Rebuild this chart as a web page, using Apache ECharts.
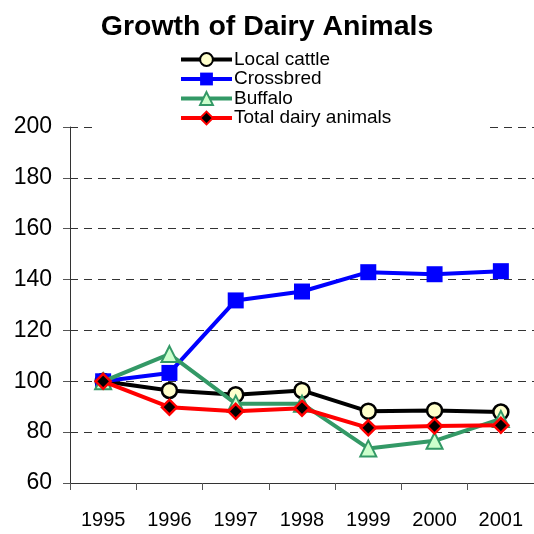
<!DOCTYPE html>
<html><head><meta charset="utf-8">
<script src="https://cdn.jsdelivr.net/npm/echarts@6/dist/echarts.min.js"></script>
<style>html,body{margin:0;padding:0;background:#fff}#c{width:534px;height:534px}</style>
</head><body><div id="c"></div>
<script>
const years = ['1995','1996','1997','1998','1999','2000','2001'];
const localCattle = [100, 96.4, 94.7, 96.4, 88.2, 88.5, 87.9];
const crossbred = [100, 103.3, 131.8, 135.3, 142.9, 142.1, 143.3];
const buffalo = [100, 110.7, 91.2, 91.2, 73.6, 76.6, 85.2];
const totalDairy = [100, 89.8, 88.2, 89.4, 81.7, 82.4, 82.7];
const yTicks = {min: 60, max: 200, interval: 20};

const chart = echarts.init(document.getElementById('c'), null, {renderer: 'canvas'});
const font = 'Arial, "Liberation Sans", sans-serif';
chart.setOption({
  animation: false,
  backgroundColor: '#fff',
  title: {
    text: 'Growth of Dairy Animals',
    left: 'center', top: 8,
    textStyle: {fontFamily: font, fontSize: 28.5, fontWeight: 'bold', color: '#000'}
  },
  legend: {
    orient: 'vertical',
    left: 93, top: 45,
    backgroundColor: '#fff',
    padding: [5, 96, 7, 86],
    itemWidth: 51, itemHeight: 16, itemGap: 0.5,
    lineStyle: {width: 4},
    textStyle: {fontFamily: font, fontSize: 19, lineHeight: 18, color: '#000', padding: [0, 0, 0, -3]},
    data: ['Local cattle', 'Crossbred', 'Buffalo', 'Total dairy animals']
  },
  grid: {left: 70, right: -6, top: 127, bottom: 51},
  xAxis: {
    type: 'category', data: years, boundaryGap: true,
    axisLine: {lineStyle: {color: '#333', width: 1}},
    axisTick: {show: true, inside: false, length: 7, lineStyle: {color: '#555'}},
    axisLabel: {fontFamily: font, fontSize: 20, color: '#000', margin: 27},
    splitLine: {show: false}
  },
  yAxis: {
    type: 'value', min: yTicks.min, max: yTicks.max, interval: yTicks.interval,
    axisLine: {show: true, lineStyle: {color: '#333', width: 1}},
    axisTick: {show: true, inside: false, length: 7, lineStyle: {color: '#555'}},
    axisLabel: {fontFamily: font, fontSize: 23, color: '#000', margin: 18},
    splitLine: {show: true, lineStyle: {color: '#333', type: [8, 6], width: 1}}
  },
  series: [
    {name: 'Local cattle', type: 'line', data: localCattle, z: 2,
     symbol: 'circle', symbolSize: 15,
     lineStyle: {color: '#000', width: 4},
     itemStyle: {color: '#ffffcc', borderColor: '#000', borderWidth: 2.5}},
    {name: 'Crossbred', type: 'line', data: crossbred, z: 3,
     symbol: 'rect', symbolSize: 16,
     lineStyle: {color: '#0000ff', width: 4},
     itemStyle: {color: '#0000ff', borderColor: '#0000ff', borderWidth: 0}},
    {name: 'Buffalo', type: 'line', data: buffalo, z: 4,
     symbol: 'triangle', symbolSize: 16,
     lineStyle: {color: '#339966', width: 4},
     itemStyle: {color: '#ccffcc', borderColor: '#339966', borderWidth: 2}},
    {name: 'Total dairy animals', type: 'line', data: totalDairy, z: 5,
     symbol: 'diamond', symbolSize: 15,
     lineStyle: {color: '#ff0000', width: 4},
     itemStyle: {color: '#000', borderColor: '#ff0000', borderWidth: 2.5}}
  ]
});
</script></body></html>
